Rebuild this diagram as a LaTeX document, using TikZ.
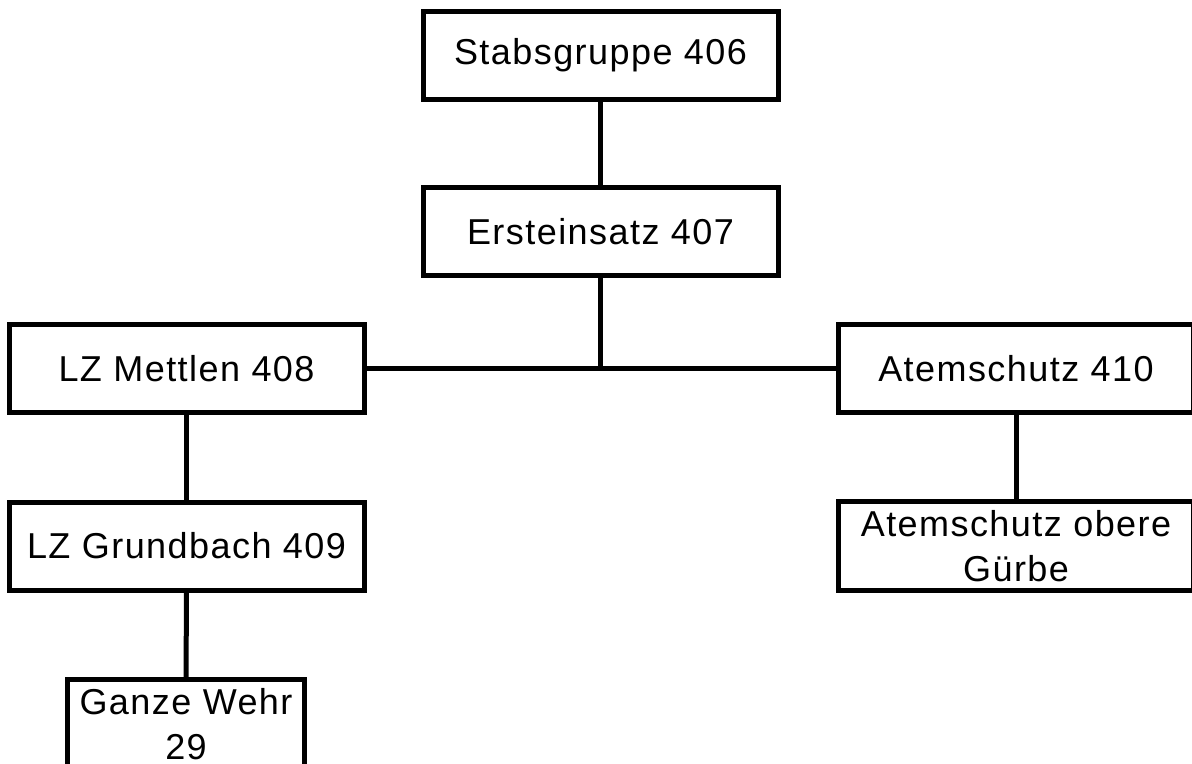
\documentclass[tikz,border=0pt]{standalone}
\usepackage{fontspec}
\setmainfont[LetterSpace=4]{Liberation Sans}
\usepackage{tikz}

\begin{document}
\begin{tikzpicture}[
		x=0.5pt, y=-0.5pt,
		line width=2.5pt,
		orgBox/.style={rectangle, draw=black, fill=white, line width=2.5pt, inner sep=0pt, minimum width=177.5pt, minimum height=44pt, font=\fontsize{18}{22.5}\selectfont},
		orgBoxTwo/.style={orgBox, minimum height=44.5pt, align=center},
		orgBoxSmall/.style={orgBoxTwo, minimum width=118.5pt}
	]
	
	\useasboundingbox (0,0) rectangle (1192,764);
	\clip (0,0) rectangle (1192,764);
	
	\node[orgBox] (nodeStabs) at (600.5, 55.5) {Stabsgruppe 406};
	\node[orgBox] (nodeErst) at (600.5, 231.5) {Ersteinsatz 407};
	
	\node[orgBox] (nodeMettlen) at (186.5, 368.5) {LZ Mettlen 408};
	\node[orgBox] (nodeAtem) at (1016, 368.5) {Atemschutz 410};
	\coordinate (junction) at (600.5, 368.5);
	
	\node[orgBox] (nodeGrundbach) at (186.5, 546) {LZ Grundbach 409};
	\node[orgBoxTwo] (nodeAtemObere) at (1016, 546) {Atemschutz obere\\Gürbe};
	\node[orgBoxSmall] (nodeGanze) at (186, 724) {Ganze Wehr\\29};
	
	\draw [-] (nodeStabs) to (nodeErst);
	\draw [-] (nodeErst) to (junction);
	\draw [-] (nodeMettlen) to (nodeAtem);
	\draw [-] (nodeMettlen) to (nodeGrundbach);
	\draw [-] (nodeGrundbach) to (nodeGanze);
	\draw [-] (nodeAtem) to (nodeAtemObere);
\end{tikzpicture}
\end{document}
